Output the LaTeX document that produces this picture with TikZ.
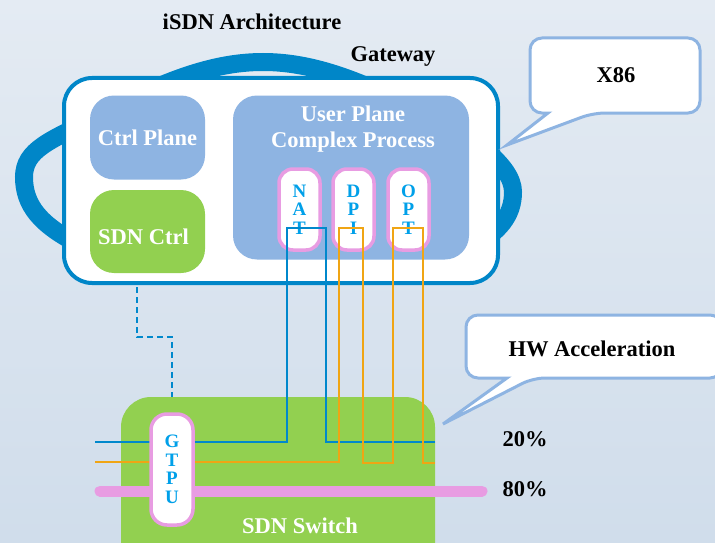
\documentclass[tikz,border=0pt]{standalone}
\usepackage{fontspec}
\setmainfont{Liberation Serif}

\definecolor{bgtop}{RGB}{228,235,243}
\definecolor{bgbot}{RGB}{208,221,235}
\definecolor{ringblue}{RGB}{0,134,200}
\definecolor{planeblue}{RGB}{142,180,226}
\definecolor{leafgreen}{RGB}{146,208,80}
\definecolor{pinkline}{RGB}{232,156,226}
\definecolor{letterblue}{RGB}{0,160,233}
\definecolor{flowblue}{RGB}{0,136,204}
\definecolor{floworange}{RGB}{240,165,20}

\tikzset{
	bigtxt/.style={font=\fontsize{22.5}{26}\selectfont\bfseries},
	whitetxt/.style={bigtxt, text=white},
	planebox/.style={fill=planeblue, rounded corners=24pt, inner sep=0pt},
	greenbox/.style={fill=leafgreen, rounded corners=24pt, inner sep=0pt},
	pill/.style={draw=pinkline, line width=3.5pt, fill=white, rounded corners=14pt,
		minimum width=41pt, inner sep=0pt, align=center, text=letterblue,
		font=\fontsize{19}{18.5}\selectfont\bfseries},
	bubble/.style={draw=planeblue, line width=3pt, fill=white},
	flow/.style={line width=2.5pt},
}

\begin{document}
\begin{tikzpicture}[x=1pt,y=-1pt]
	\useasboundingbox (0,0) rectangle (715,543);
	\shade[top color=bgtop, bottom color=bgbot] (0,0) rectangle (715,543);
	
	% gateway ring and box
	\draw[ringblue, line width=18pt] (263,62) .. controls (226,62) and (176,72) .. (96,118)
		.. controls (50,140) and (24,150) .. (24,177)
		.. controls (24,205) and (40,225) .. (80,245)
		.. controls (130,275) and (420,275) .. (470,248)
		.. controls (500,232) and (513,215) .. (513,192)
		.. controls (513,165) and (470,135) .. (430,118)
		.. controls (350,72) and (300,62) .. cycle;
	\node[draw=ringblue, line width=4pt, fill=white, rounded corners=28pt,
		minimum width=434pt, minimum height=205pt] (gw) at (281,180.5) {};
	
	\node[planebox, minimum width=115pt, minimum height=84pt, whitetxt] (ctrl) at (147.5,137.5) {Ctrl Plane};
	\node[greenbox, minimum width=115pt, minimum height=83pt] (sdnctrl) at (147.5,231.5) {};
	\node[whitetxt] (sdnlbl) at ([xshift=-4pt, yshift=-5pt]sdnctrl.center) {SDN Ctrl};
	\node[planebox, minimum width=236pt, minimum height=164pt] (upc) at (351,177.5) {};
	\node[whitetxt, align=center] (upclbl) at (353,129) {User Plane\\Complex Process};
	
	\node[pill, minimum height=81pt] (nat) at (299.5,209.5) {N\\A\\T};
	\node[pill, minimum height=81pt] (dpi) at (353.5,209.5) {D\\P\\I};
	\node[pill, minimum height=81pt] (opt) at (408.5,209.5) {O\\P\\T};
	
	% switch
	\node[greenbox, rounded corners=30pt, minimum width=314pt, minimum height=180pt] (sw) at (278,487) {};
	\node[whitetxt] (swlbl) at (300,526) {SDN Switch};
	
	\draw[pinkline, line width=11pt, line cap=round] (100,491) -- (482,491);
	
	\coordinate (inb) at (95,442);
	\coordinate (outb) at (435,442);
	\coordinate (ino) at (95,462);
	\coordinate (outo) at (435,463);
	\draw[flow, flowblue] (inb) -| (287,228) -| (326,442) -- (outb);
	\draw[flow, floworange] (ino) -| (339,228) -| (363,463) -| (393,228) -| (423,463) -- (outo);
	
	\coordinate (dtop) at (137,287);
	\node[pill, minimum width=42pt, minimum height=111pt, rounded corners=16pt] (gtpu) at (172,469.5) {G\\T\\P\\U};
	\draw[flowblue, line width=2pt, dashed, dash pattern=on 6pt off 4pt] (dtop) |- (gtpu.north |- 0,337) -- (gtpu.north |- sw.north);
	
	% callouts
	\draw[bubble] (507,145) -- (548,113) [rounded corners=12pt] -- (530,113) -- (530,38) -- (700,38) -- (700,113) -- (593,113) [sharp corners] -- cycle;
	\draw[bubble] (443,424) -- (507,378) [rounded corners=12pt] -- (466,378) -- (466,315) -- (722,315) -- (722,378) -- (533,378) [sharp corners] -- cycle;
	
	\node[bigtxt] (title) at (252,22) {iSDN Architecture};
	\node[bigtxt] (gwlbl) at (393,56) {Gateway};
	\node[bigtxt] (x86) at (616,75) {X86};
	\node[bigtxt] (hw) at (592,349) {HW Acceleration};
	\node[bigtxt] (p20) at (525,439) {20\%};
	\node[bigtxt] (p80) at (525,489) {80\%};
	
\end{tikzpicture}
\end{document}
